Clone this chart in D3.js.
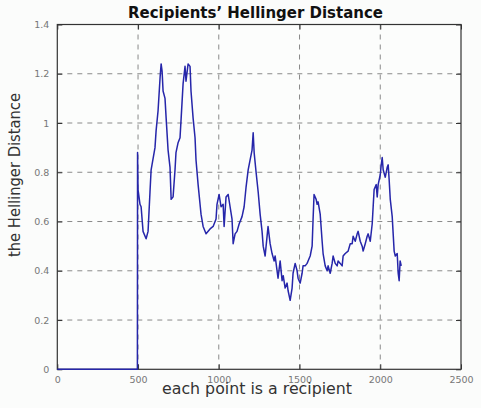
<!DOCTYPE html>
<html>
<head>
<meta charset="utf-8">
<script src="https://cdn.jsdelivr.net/npm/d3@7"></script>
<style>
body { margin: 0; background: #fbfcfb; }
.title { font-family: "DejaVu Sans", sans-serif; font-weight: bold; font-size: 15px; fill: #111; }
.label { font-family: "DejaVu Sans", sans-serif; font-size: 15px; fill: #333; }
.tick text { font-family: "DejaVu Sans", sans-serif; font-size: 9.5px; fill: #777; }
</style>
</head>
<body>
<div id="chart"></div>
<script>
// recipient index (x) and Hellinger distance (y)
var recipients = [0, 496, 497, 500, 512, 519, 531, 550, 562, 574, 581, 605, 612, 624, 637, 643, 649, 655, 667, 674,
  686, 698, 705, 717, 729, 735, 748, 760, 767, 779, 791, 797, 810, 822, 828, 841, 853, 859, 872, 884,
  890, 903, 921, 946, 965, 983, 989, 1002, 1014, 1027, 1033, 1045, 1058, 1070, 1082, 1089, 1101, 1113, 1126, 1144,
  1157, 1169, 1182, 1194, 1206, 1213, 1219, 1231, 1244, 1256, 1268, 1275, 1287, 1299, 1305, 1318, 1330, 1343, 1349, 1361,
  1367, 1380, 1392, 1399, 1411, 1423, 1429, 1442, 1454, 1460, 1473, 1485, 1491, 1504, 1516, 1522, 1535, 1547, 1553, 1566,
  1578, 1584, 1590, 1603, 1609, 1615, 1628, 1640, 1646, 1659, 1671, 1677, 1690, 1702, 1708, 1721, 1733, 1739, 1752, 1764,
  1770, 1783, 1801, 1814, 1826, 1832, 1845, 1857, 1863, 1876, 1888, 1894, 1907, 1919, 1925, 1938, 1950, 1956, 1962, 1975,
  1981, 1987, 2000, 2006, 2012, 2018, 2031, 2043, 2049, 2055, 2062, 2074, 2080, 2086, 2093, 2105, 2111, 2117, 2123, 2130];
var distances = [0, 0, 0.88, 0.73, 0.67, 0.66, 0.56, 0.53, 0.56, 0.72, 0.81, 0.90, 0.97, 1.05, 1.19, 1.24, 1.21, 1.13, 1.10, 1.02,
  0.89, 0.82, 0.69, 0.70, 0.81, 0.88, 0.92, 0.94, 1.02, 1.16, 1.23, 1.17, 1.24, 1.23, 1.13, 1.02, 0.94, 0.85, 0.75, 0.67,
  0.63, 0.58, 0.55, 0.57, 0.58, 0.61, 0.67, 0.71, 0.66, 0.67, 0.58, 0.70, 0.71, 0.66, 0.61, 0.51, 0.55, 0.56, 0.59, 0.62,
  0.66, 0.74, 0.81, 0.85, 0.89, 0.96, 0.88, 0.80, 0.72, 0.63, 0.56, 0.50, 0.46, 0.54, 0.58, 0.51, 0.47, 0.44, 0.46, 0.40,
  0.37, 0.44, 0.36, 0.38, 0.33, 0.35, 0.32, 0.28, 0.33, 0.39, 0.43, 0.40, 0.37, 0.35, 0.39, 0.42, 0.42, 0.43, 0.44, 0.46,
  0.50, 0.61, 0.71, 0.69, 0.67, 0.68, 0.63, 0.52, 0.47, 0.42, 0.40, 0.42, 0.39, 0.43, 0.46, 0.43, 0.42, 0.44, 0.43, 0.42,
  0.46, 0.47, 0.48, 0.51, 0.51, 0.54, 0.52, 0.55, 0.56, 0.52, 0.50, 0.48, 0.51, 0.54, 0.55, 0.52, 0.59, 0.66, 0.73, 0.75,
  0.70, 0.75, 0.79, 0.83, 0.86, 0.81, 0.78, 0.82, 0.83, 0.77, 0.69, 0.62, 0.55, 0.48, 0.46, 0.47, 0.39, 0.36, 0.44, 0.42];
var xTicks = [0, 500, 1000, 1500, 2000, 2500];
var yTicks = [0, 0.2, 0.4, 0.6, 0.8, 1, 1.2, 1.4];

var margin = {top: 24.5, bottom: 38.7, right: 20, left: 57.3},
    width = 481 - margin.left - margin.right,
    height = 408 - margin.top - margin.bottom;

var root = d3.select("#chart")
.append("svg")
.attr("width", 481)
.attr("height", 408);

var svg = root.append("g")
.attr("transform", "translate("+margin.left+","+margin.top+")");

var x = d3.scaleLinear()
.domain([0, 2500])
.range([0, width]);

var y = d3.scaleLinear()
.domain([0, 1.4])
.range([height, 0]);

svg.append("rect")
.attr("width", width)
.attr("height", height)
.attr("fill", "#fcfdfc");

// dashed grid
svg.append("g")
.selectAll("line")
.data(xTicks.slice(1, -1))
.enter()
.append("line")
.attr("x1", function(d){return x(d)})
.attr("x2", function(d){return x(d)})
.attr("y1", 0)
.attr("y2", height)
.attr("stroke", "#8a8a8a")
.attr("stroke-dasharray", "5,5");

svg.append("g")
.selectAll("line")
.data(yTicks.slice(1, -1))
.enter()
.append("line")
.attr("y1", function(d){return y(d)})
.attr("y2", function(d){return y(d)})
.attr("x1", 0)
.attr("x2", width)
.attr("stroke", "#8a8a8a")
.attr("stroke-dasharray", "5,5");

// axes, ticks pointing inward
svg.append("g")
.attr("transform", "translate(0,"+height+")")
.call(d3.axisBottom(x).tickValues(xTicks).tickFormat(d3.format("d")).tickSizeInner(-5).tickSizeOuter(0).tickPadding(7));

svg.append("g")
.call(d3.axisLeft(y).tickValues(yTicks).tickFormat(function(d){return d}).tickSizeInner(-5).tickSizeOuter(0).tickPadding(8));

svg.append("g")
.call(d3.axisTop(x).tickValues(xTicks).tickFormat("").tickSizeInner(-5).tickSizeOuter(0));

svg.append("g")
.attr("transform", "translate("+width+",0)")
.call(d3.axisRight(y).tickValues(yTicks).tickFormat("").tickSizeInner(-5).tickSizeOuter(0));

svg.selectAll(".domain").attr("stroke", "none");
svg.selectAll(".tick line").attr("stroke", "#333");

svg.append("rect")
.attr("width", width)
.attr("height", height)
.attr("fill", "none")
.attr("stroke", "#333")
.attr("stroke-width", 1.2);

// the distance line
var points = recipients.map(function(r, i){return {r: r, v: distances[i]}});

var line = d3.line()
.x(function(d){return x(d.r)})
.y(function(d){return y(d.v)});

svg.append("path")
.datum(points)
.attr("d", line)
.attr("fill", "none")
.attr("stroke", "#2626aa")
.attr("stroke-width", 1.5)
.attr("stroke-linejoin", "round");

// labels
var labels = root.append("g");

labels.append("text")
.text("Recipients\u2019 Hellinger Distance")
.classed("title", true)
.attr("text-anchor", "middle")
.attr("x", 255.5)
.attr("y", 17.5)
.attr("textLength", 255)
.attr("lengthAdjust", "spacingAndGlyphs");

labels.append("text")
.text("each point is a recipient")
.classed("label", true)
.attr("text-anchor", "middle")
.attr("x", 257)
.attr("y", 394)
.attr("textLength", 190)
.attr("lengthAdjust", "spacingAndGlyphs");

labels.append("text")
.text("the Hellinger Distance")
.classed("label", true)
.attr("text-anchor", "middle")
.attr("transform", "translate(19.5,175)rotate(-90)")
.attr("textLength", 164)
.attr("lengthAdjust", "spacingAndGlyphs");
</script>
</body>
</html>
